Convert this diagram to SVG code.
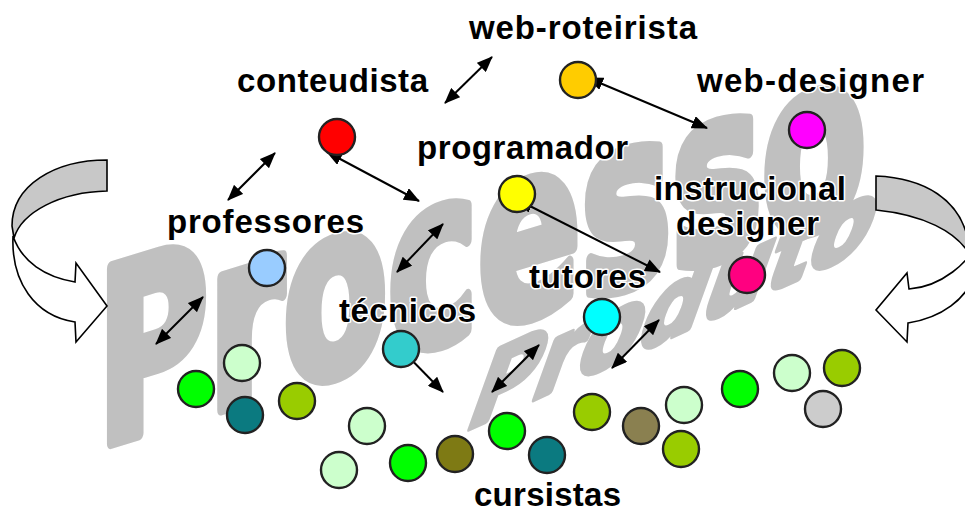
<svg xmlns="http://www.w3.org/2000/svg" width="965" height="510" viewBox="0 0 965 510">
<style>
.wm{font-family:"DejaVu Sans",Verdana,sans-serif;font-weight:bold;fill:#c0c0c0;stroke:#c0c0c0;stroke-linejoin:round}
.lbl{font-family:"Liberation Sans",Arial,sans-serif;font-weight:bold;font-size:33px;fill:#000;stroke:#fff;stroke-width:3px;paint-order:stroke;stroke-linejoin:round}
.n{stroke:#222;stroke-width:2.4}
.conn line{stroke:#000;stroke-width:2;marker-start:url(#ah);marker-end:url(#ah)}
.ca{stroke:#000;stroke-width:1.6;stroke-linejoin:miter}
</style>
<defs>
<marker id="ah" viewBox="0 0 16 13" refX="15" refY="6.5" markerWidth="16" markerHeight="13" markerUnits="userSpaceOnUse" orient="auto-start-reverse">
<path d="M0,0 L16,6.5 L0,13 Z" fill="#000"/>
</marker>
</defs>
<rect width="965" height="510" fill="#fff"/>

<g id="watermark">
<text class="wm" font-size="152" stroke-width="8" transform="matrix(1 -0.306 0 1.58 97 447)">Processo</text>
<text class="wm" font-size="98" stroke-width="6" transform="matrix(0.91 -0.415 -0.40 1.11 462 432)">Produto</text>
</g>

<g id="curved-arrow-left">
<path class="ca" fill="#c8c8c8" d="M107,160 C55,160 12,185 12,226 L14,238 C22,212 60,192 107,191 Z"/>
<path class="ca" fill="#fff" d="M13,236 C11,282 35,316 75,322 L76,342 L107,306 L76,263 L75,282 C45,277 22,262 13,236 Z"/>
</g>
<g id="curved-arrow-right">
<path class="ca" fill="#c8c8c8" d="M876,176 C925,178 960,200 968,240 L968,252 C955,232 925,215 876,210 Z"/>
<path class="ca" fill="#fff" d="M976,240 C972,262 940,287 909,289 L907,273 L876,310 L907,342 L908,323 C940,318 968,300 976,270 Z"/>
</g>

<g class="conn" id="connectors">
<line x1="445" y1="103" x2="492" y2="57"/>
<line x1="228" y1="200" x2="275" y2="153"/>
<line x1="327" y1="152" x2="419" y2="201"/>
<line x1="588" y1="78" x2="707" y2="128"/>
<line x1="518" y1="200" x2="660" y2="272"/>
<line x1="397" y1="272" x2="443" y2="224"/>
<line x1="156" y1="344" x2="203" y2="297"/>
<line x1="396" y1="344" x2="443" y2="392"/>
<line x1="492" y1="392" x2="539" y2="345"/>
<line x1="612" y1="368" x2="659" y2="320"/>
</g>

<g id="web-roteirista"><text class="lbl" x="469" y="39" textLength="228">web-roteirista</text><circle class="n" cx="578" cy="80" r="18" fill="#ffcc00"/></g>
<g id="conteudista"><text class="lbl" x="237" y="92" textLength="191">conteudista</text><circle class="n" cx="337" cy="137" r="18" fill="#ff0000"/></g>
<g id="web-designer"><text class="lbl" x="697" y="92" textLength="227">web-designer</text><circle class="n" cx="807" cy="130" r="18" fill="#ff00ff"/></g>
<g id="programador"><text class="lbl" x="417" y="159" textLength="211">programador</text><circle class="n" cx="517" cy="194" r="18" fill="#ffff00"/></g>
<g id="instrucional-designer"><text class="lbl" x="654" y="200" textLength="192">instrucional</text><text class="lbl" x="676" y="235" textLength="143">designer</text><circle class="n" cx="747" cy="275" r="18" fill="#ff0080"/></g>
<g id="professores"><text class="lbl" x="167" y="233" textLength="197">professores</text><circle class="n" cx="267" cy="268" r="18" fill="#99ccff"/></g>
<g id="tecnicos"><text class="lbl" x="339" y="322" textLength="137">técnicos</text><circle class="n" cx="401" cy="349" r="18" fill="#33cccc"/></g>
<g id="tutores"><text class="lbl" x="529" y="288" textLength="117">tutores</text><circle class="n" cx="602" cy="317" r="18" fill="#00ffff"/></g>

<g id="cursistas">
<text class="lbl" x="474" y="506" textLength="147">cursistas</text>
<circle class="n" cx="242" cy="363" r="18" fill="#ccffcc"/>
<circle class="n" cx="196" cy="389" r="18" fill="#00ff00"/>
<circle class="n" cx="245" cy="415" r="18" fill="#0b7a80"/>
<circle class="n" cx="297" cy="401" r="18" fill="#99cc00"/>
<circle class="n" cx="367" cy="426" r="18" fill="#ccffcc"/>
<circle class="n" cx="339" cy="470" r="18" fill="#ccffcc"/>
<circle class="n" cx="408" cy="463" r="18" fill="#00ff00"/>
<circle class="n" cx="455" cy="454" r="18" fill="#7e7a14"/>
<circle class="n" cx="507" cy="431" r="18" fill="#00ff00"/>
<circle class="n" cx="547" cy="455" r="18" fill="#0b7a80"/>
<circle class="n" cx="592" cy="412" r="18" fill="#99cc00"/>
<circle class="n" cx="641" cy="426" r="18" fill="#8a8050"/>
<circle class="n" cx="684" cy="405" r="18" fill="#ccffcc"/>
<circle class="n" cx="681" cy="449" r="18" fill="#99cc00"/>
<circle class="n" cx="740" cy="389" r="18" fill="#00ff00"/>
<circle class="n" cx="792" cy="373" r="18" fill="#ccffcc"/>
<circle class="n" cx="842" cy="368" r="18" fill="#99cc00"/>
<circle class="n" cx="823" cy="409" r="18" fill="#cccccc"/>
</g>
</svg>
